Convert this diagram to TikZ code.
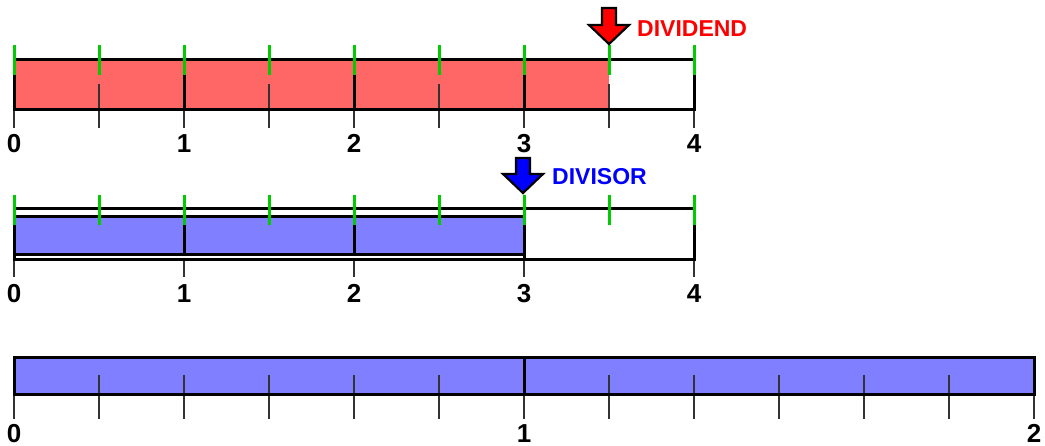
\documentclass[tikz,border=0pt]{standalone}
\usepackage{fontspec}
\setmainfont{Liberation Sans}
\begin{document}
\begin{tikzpicture}[x=1pt,y=-1pt,
  barline/.style={line width=3pt,line join=miter},
  thin tick/.style={line width=1.6pt,black!80},
  num/.style={font=\fontsize{26}{26}\selectfont\bfseries,inner sep=0pt,text height=19pt,text depth=0pt},
  lbl/.style={font=\fontsize{23}{23}\selectfont\bfseries,inner sep=0pt,anchor=west,text height=16.5pt,text depth=0pt},
  arrowshape/.style={draw=black,line width=2.2pt,line join=miter}]
\useasboundingbox (0,0) rectangle (1045,446);
\definecolor{redfill}{HTML}{FF6666}
\definecolor{bluefill}{HTML}{7F7FFF}
\definecolor{gtk}{HTML}{00CC00}
% ---------- bar 1: dividend ----------
\fill[redfill] (14,60) rectangle (609,110);
\foreach \i in {0,...,4} {
  \draw[thin tick] (14+170*\i,110) -- (14+170*\i,128);
  \node[num] (a\i) at (14+170*\i,143) {\i};
}
\foreach \i in {0,...,3} \draw[thin tick] (99+170*\i,84) -- (99+170*\i,128);
\draw[barline] (14,60) rectangle (694,110);
\foreach \i in {1,2,3} \draw[barline] (14+170*\i,60) -- (14+170*\i,110);
\foreach \i in {0,...,8} \draw[line width=3pt,gtk] (14+85*\i,45) -- (14+85*\i,75);
\filldraw[arrowshape,fill=red] (602,8) -- (616,8) -- (616,25) -- (629,25) -- (609,44) -- (589,25) -- (602,25) -- cycle;
\node[lbl,text=red] (dividend) at (637,28) {DIVIDEND};
% ---------- bar 2: divisor ----------
\foreach \i in {0,...,4} {
  \draw[thin tick] (14+170*\i,258) -- (14+170*\i,277);
  \node[num] (b\i) at (14+170*\i,293) {\i};
}
\draw[barline] (14,209) rectangle (694,260);
\filldraw[barline,fill=bluefill] (14,217) rectangle (524,255);
\foreach \i in {1,2} \draw[barline] (14+170*\i,217) -- (14+170*\i,255);
\draw[barline] (524,217) -- (524,260);
\foreach \i in {0,...,8} \draw[line width=3pt,gtk] (14+85*\i,195) -- (14+85*\i,225);
\filldraw[arrowshape,fill=blue] (516,158) -- (530,158) -- (530,174) -- (543,174) -- (523,193) -- (503,174) -- (516,174) -- cycle;
\node[lbl,text=blue] (divisor) at (552,176) {DIVISOR};
% ---------- bar 3: quotient ----------
\fill[bluefill] (14,358) rectangle (1034,395);
\foreach \k in {1,...,5,7,8,9,10,11} \draw[thin tick] (14+85*\k,375) -- (14+85*\k,419);
\foreach \k in {0,6,12} \draw[thin tick] (14+85*\k,395) -- (14+85*\k,419);
\draw[barline] (14,358) rectangle (1034,395);
\draw[barline] (524,358) -- (524,395);
\node[num] (c0) at (14,433) {0};
\node[num] (c1) at (524,433) {1};
\node[num] (c2) at (1034,433) {2};
\end{tikzpicture}
\end{document}
